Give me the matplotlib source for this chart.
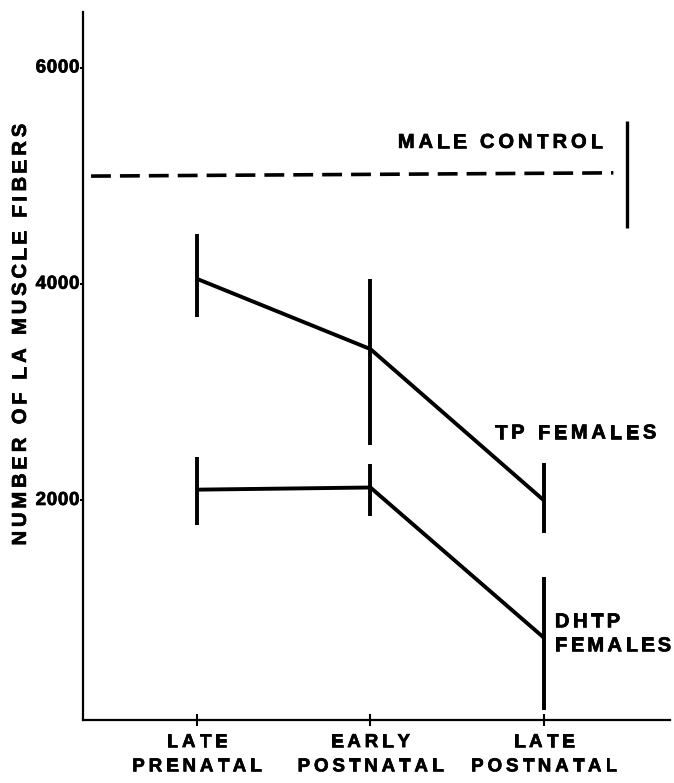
import numpy as np
import matplotlib.pyplot as plt
import matplotlib.patheffects as pe
from matplotlib.font_manager import FontProperties, findfont, get_font

plt.rcParams['font.family'] = ['Liberation Sans', 'DejaVu Sans']

# stages on the x axis
stage_top = ["LATE", "EARLY", "LATE"]
stage_bottom = ["PRENATAL", "POSTNATAL", "POSTNATAL"]
x = [1, 2, 3]

# TP females: mean and error bar ends
tp_mean = [4050, 3400, 2000]
tp_hi = [4460, 4050, 2350]
tp_lo = [3700, 2510, 1700]

# DHTP females
dhtp_mean = [2100, 2120, 730]
dhtp_hi = [2400, 2340, 1290]
dhtp_lo = [1770, 1860, 60]

# male control
male_mean = [5000, 5030]
male_hi = 5510
male_lo = 4520

yticks = [2000, 4000, 6000]

heavy = [pe.withStroke(linewidth=0.5, foreground='black')]


def spaced_text(ax, xy, s, size, track, coords, ha='left', va='baseline',
                rotation=0, dx=0, dy=0, weight='bold'):
    # letter by letter, to get the wide lettering of the original
    prop = FontProperties(family='Liberation Sans', weight=weight, size=size)
    font = get_font(findfont(prop))
    font.set_size(size, 72)
    advs = []
    for c in s:
        g = font.load_char(ord(c))
        advs.append(g.linearHoriAdvance / 65536)
    total = sum(advs) + track * (len(s) - 1)
    start = {'left': 0, 'center': -total / 2, 'right': -total}[ha]
    pos = start
    for c, a in zip(s, advs):
        if c != ' ':
            if rotation == 0:
                off = (dx + pos, dy)
            else:
                off = (dx, dy + pos)
            ax.annotate(c, xy, xycoords=coords, xytext=off, textcoords='offset points',
                        ha='left', va=va, rotation=rotation, rotation_mode='anchor',
                        fontproperties=prop, annotation_clip=False, path_effects=heavy)
        pos += a + track


fig = plt.figure(figsize=(6.74, 7.83), dpi=100)
ax = fig.add_axes([0.123, 0.0805, 0.871, 0.9045])

lw = 2.8
ax.plot(x, tp_mean, color='black', lw=lw, solid_capstyle='butt')
ax.vlines(x, tp_lo, tp_hi, color='black', lw=lw)
ax.plot(x, dhtp_mean, color='black', lw=lw, solid_capstyle='butt')
ax.vlines(x, dhtp_lo, dhtp_hi, color='black', lw=lw)

ax.plot([0.39, 3.4], male_mean, color='black', lw=2.6,
        linestyle=(0, (5.5, 2.5)))
ax.vlines([3.48], male_lo, male_hi, color='black', lw=2.4)

ax.set_xlim(0.343, 3.726)
ax.set_ylim(-30, 6520)

spaced_text(ax, (2.158, 5261), "MALE CONTROL", 14.5, 2.8, 'data')
spaced_text(ax, (2.718, 2573), "TP FEMALES", 14.5, 2.7, 'data')
spaced_text(ax, (3.063, 827), "DHTP", 14.5, 2.5, 'data')
spaced_text(ax, (3.063, 605), "FEMALES", 14.5, 2.4, 'data')

ax.set_xticks(x)
ax.set_xticklabels([])
ax.set_yticks(yticks)
ax.set_yticklabels([])
ax.tick_params(axis='x', direction='inout', length=9, width=1.5)
ax.tick_params(axis='y', direction='out', length=2, width=1.5)

xt = ax.get_xaxis_transform()
for xi, t1, t2 in zip(x, stage_top, stage_bottom):
    spaced_text(ax, (xi, 0), t1, 13.5, 2.8, xt, ha='center', dy=-19.5)
    spaced_text(ax, (xi, 0), t2, 13.5, 2.8, xt, ha='center', dy=-37)

yt = ax.get_yaxis_transform()
for v in yticks:
    spaced_text(ax, (0, v), str(v), 13.5, 0.5, yt, ha='right', va='center', dx=-2.5)

spaced_text(ax, (-0.1065, 3534), "NUMBER OF LA MUSCLE FIBERS", 14.5, 2.8, yt,
            ha='center', va='center', rotation=90)

for s in ['top', 'right']:
    ax.spines[s].set_visible(False)
for s in ['left', 'bottom']:
    ax.spines[s].set_linewidth(1.6)

fig.savefig("out.png", dpi=100)
